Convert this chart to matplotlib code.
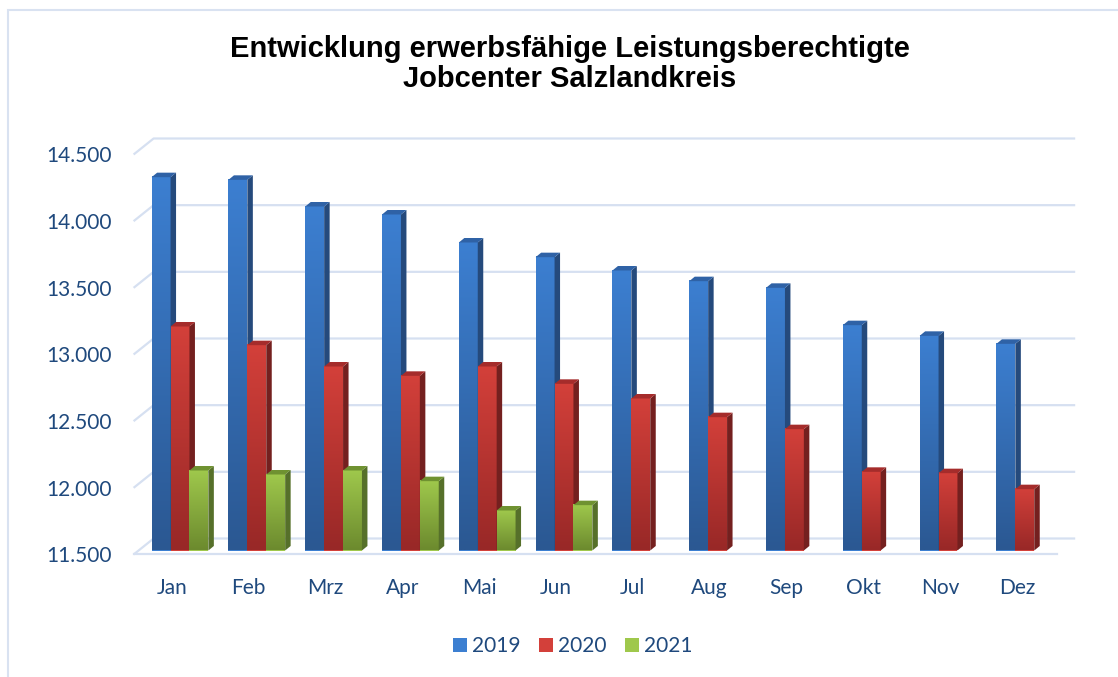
import numpy as np
import matplotlib.pyplot as plt
from matplotlib.colors import LinearSegmentedColormap
from matplotlib.patches import Polygon, Rectangle, Patch

months = ["Jan", "Feb", "Mrz", "Apr", "Mai", "Jun", "Jul", "Aug", "Sep", "Okt", "Nov", "Dez"]
years = ["2019", "2020", "2021"]
v2019 = [14300, 14280, 14080, 14020, 13810, 13700, 13600, 13520, 13470, 13190, 13110, 13050]
v2020 = [13180, 13040, 12880, 12810, 12880, 12750, 12640, 12500, 12410, 12090, 12080, 11960]
v2021 = [12100, 12070, 12100, 12020, 11800, 11840]
yticks = [11500, 12000, 12500, 13000, 13500, 14000, 14500]

# colours: front top, front bottom, side, top face
styles = [
    ("#3c7fd1", "#2b5892", "#254a7c", "#2f62a6"),
    ("#d3403a", "#982827", "#74201f", "#a52c2b"),
    ("#9fc84c", "#6c8a2e", "#56702a", "#6f9231"),
]
text_col = "#1f497d"
grid_col = "#d6e0f1"

W, H = 1118, 677
fig = plt.figure(figsize=(W / 100, H / 100), dpi=100)
ax_l, ax_r, ax_t, ax_b = 133.6, 1055.2, 154.5, 554.5
ax = fig.add_axes([ax_l / W, 1 - ax_b / H, (ax_r - ax_l) / W, (ax_b - ax_t) / H])
xmin, xmax, ymin, ymax = -0.5, 11.5, 11500, 14500
px_x = (ax_r - ax_l) / (xmax - xmin)
px_y = (ax_b - ax_t) / (ymax - ymin)

# back wall gridlines with a slanted left wall segment
wall_dx, wall_dy = 20 / px_x, 16 / px_y
for v in yticks:
    ax.plot([xmin, xmin + wall_dx, xmax + wall_dx], [v, v + wall_dy, v + wall_dy],
            color=grid_col, lw=1.6, clip_on=False, zorder=1, solid_capstyle="butt")
ax.plot([xmin, xmax + 0.02], [ymin, ymin], color=grid_col, lw=1.6, clip_on=False, zorder=1)

# 3d-look columns
w = 18.9 / px_x
shift = 8 / px_x
lift = 4 / px_y
ddx, ddy = 5.5 / px_x, 4.5 / px_y
series = [v2019, v2020, v2021]
for j, vals in enumerate(series):
    ftop, fbot, side, topc = styles[j]
    cmap = LinearSegmentedColormap.from_list("g%d" % j, [fbot, ftop])
    xs = np.arange(len(vals)) + shift + (j - 1) * w
    heights = np.array(vals) - ymin
    z = 3 + j
    bars = ax.bar(xs, heights, bottom=ymin + lift, width=w, color=ftop, zorder=z, linewidth=0)
    for b in bars:
        x0, y0 = b.get_x(), b.get_y()
        x1, y1 = x0 + b.get_width(), y0 + b.get_height()
        grad = np.linspace(0, 1, 128).reshape(-1, 1)
        ax.imshow(grad, extent=[x0, x1, y0, y1], origin="lower", aspect="auto",
                  cmap=cmap, zorder=z, interpolation="bilinear")
        ax.add_patch(Polygon([(x1, y0), (x1 + ddx, y0 + ddy), (x1 + ddx, y1 + ddy), (x1, y1)],
                             closed=True, facecolor=side, edgecolor="none", zorder=z))
        ax.add_patch(Polygon([(x0, y1), (x0 + ddx, y1 + ddy), (x1 + ddx, y1 + ddy), (x1, y1)],
                             closed=True, facecolor=topc, edgecolor="none", zorder=z))

ax.set_xlim(xmin, xmax)
ax.set_ylim(ymin, ymax)
for s in ax.spines.values():
    s.set_visible(False)
ax.set_yticks(yticks)
ax.set_yticklabels([f"{v:,}".replace(",", ".") for v in yticks])
ax.set_xticks(range(len(months)))
ax.set_xticklabels(months)
ax.tick_params(axis="y", length=0, pad=16, labelsize=15, labelcolor=text_col)
ax.tick_params(axis="x", length=0, pad=17, labelsize=15, labelcolor=text_col)
for lab in ax.get_xticklabels() + ax.get_yticklabels():
    lab.set_fontfamily("Lato")

fig.text(570 / W, 1 - 64 / H,
         "Entwicklung erwerbsfähige Leistungsberechtigte\nJobcenter Salzlandkreis",
         ha="center", va="center", fontsize=21, fontweight="bold",
         family="Liberation Sans", linespacing=1.12, color="black")

handles = [Patch(facecolor=styles[j][0], edgecolor="none") for j in range(3)]
leg = fig.legend(handles, years, loc="center", bbox_to_anchor=(573 / W, 1 - 646 / H),
                 ncol=3, frameon=False, handlelength=0.65, handleheight=0.65,
                 handletextpad=0.25, columnspacing=0.9,
                 prop={"family": "Lato", "size": 15})
for t in leg.get_texts():
    t.set_color(text_col)

fig.add_artist(Rectangle((8 / W, -0.05), 1.2, 1 - 10 / H + 0.05, transform=fig.transFigure,
                         facecolor="none", edgecolor="#d9e2f1", lw=1.5, clip_on=False))

fig.savefig("out.png", dpi=100)
